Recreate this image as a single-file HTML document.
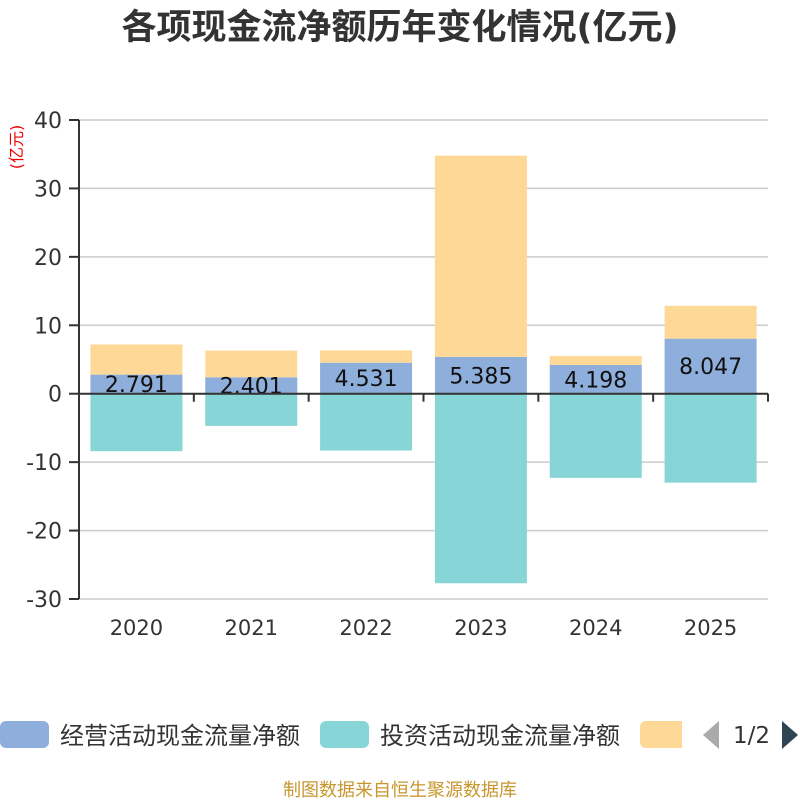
<!DOCTYPE html>
<html><head><meta charset="utf-8"><style>
body{margin:0;width:800px;height:800px;background:#fff;overflow:hidden;font-family:"DejaVu Sans","Noto Sans CJK SC",sans-serif}
</style></head><body>
<svg id="c" width="800" height="800" xmlns="http://www.w3.org/2000/svg" font-family="DejaVu Sans,Noto Sans CJK SC,sans-serif">
<text x="400" y="39" text-anchor="middle" font-size="35" font-weight="bold" fill="#333">各项现金流净额历年变化情况(亿元)</text>
<text transform="translate(22,147) rotate(-90)" text-anchor="middle" font-size="16" fill="#e00">(亿元)</text>
<g id="grid"></g><g id="bars"></g><g id="axes"></g>
<g font-size="24" fill="#333">
<rect x="0" y="721" width="49" height="27" rx="6" fill="#8eaedb"/>
<text x="60" y="744">经营活动现金流量净额</text>
<rect x="320" y="721" width="49" height="27" rx="6" fill="#88d5d8"/>
<text x="380" y="744">投资活动现金流量净额</text>
<path d="M640,727 a6,6 0 0 1 6,-6 H682 V748 H646 a6,6 0 0 1 -6,-6 Z" fill="#fdd896"/>
<polygon points="719,721 719,749 703,735" fill="#aaa"/>
<text x="733" y="743" font-size="23">1/2</text>
<polygon points="782,721 782,749 798,735" fill="#2f4554"/>
</g>
<text x="400" y="796" text-anchor="middle" font-size="18" fill="#c8962e">制图数据来自恒生聚源数据库</text>
</svg>
<script>
const categories=["2020","2021","2022","2023","2024","2025"];
const operating=[2.791,2.401,4.531,5.385,4.198,8.047];
const investing=[-8.4,-4.7,-8.3,-27.7,-12.3,-13.0];
const financing=[4.4,3.9,1.8,29.4,1.3,4.8];
const yTicks=[40,30,20,10,0,-10,-20,-30];
const NS="http://www.w3.org/2000/svg";
const x0=79,x1=768,yTop=120,yBot=599,yMax=40,yMin=-30;
const y=v=>yTop+(yMax-v)/(yMax-yMin)*(yBot-yTop);
const bw=(x1-x0)/categories.length;
const xc=i=>x0+bw*(i+0.5);
function mk(tag,attrs,parent){const e=document.createElementNS(NS,tag);for(const k in attrs)e.setAttribute(k,attrs[k]);document.getElementById(parent).appendChild(e);return e;}
yTicks.forEach(t=>{
  if(t!==0){const l=mk('line',{x1:x0,x2:x1,y1:y(t),y2:y(t),stroke:'#ccc','stroke-width':1.5},'grid');
  
  }
  const tk=mk('line',{x1:69,x2:x0,y1:y(t),y2:y(t),stroke:'#333','stroke-width':2},'axes');
  
  
  const tx=mk('text',{x:62,y:y(t)+8,'text-anchor':'end','font-size':22,fill:'#333'},'axes');
  tx.textContent=t;
  
  
});
const bW=92;
categories.forEach((c,i)=>{
  const bx=xc(i)-bW/2;
  const ri=mk('rect',{x:bx,y:y(0),width:bW,height:y(investing[i])-y(0),fill:'#88d5d8'},'bars');
  
  
  const ro=mk('rect',{x:bx,y:y(operating[i]),width:bW,height:y(0)-y(operating[i]),fill:'#8eaedb'},'bars');
  
  
  const top=operating[i]+financing[i];
  const rf=mk('rect',{x:bx,y:y(top),width:bW,height:y(operating[i])-y(top),fill:'#fdd896'},'bars');
  
  
  const lb=mk('text',{x:xc(i),y:y(operating[i]/2)+8,'text-anchor':'middle','font-size':22,fill:'#111'},'bars');
  lb.textContent=operating[i].toFixed(3);
  
  
  const xl=mk('text',{x:xc(i),y:635,'text-anchor':'middle','font-size':21,fill:'#333'},'axes');
  xl.textContent=c;
  
  
});
for(let i=0;i<=categories.length;i++){
  const t=mk('line',{x1:x0+bw*i,x2:x0+bw*i,y1:y(0),y2:y(0)+8,stroke:'#333','stroke-width':2},'axes');
  
  
}
const xa=mk('line',{x1:x0,x2:x1,y1:y(0),y2:y(0),stroke:'#333','stroke-width':2},'axes');


const ya=mk('line',{x1:x0,x2:x0,y1:yTop,y2:yBot,stroke:'#333','stroke-width':2},'axes');


</script>
</body></html>
